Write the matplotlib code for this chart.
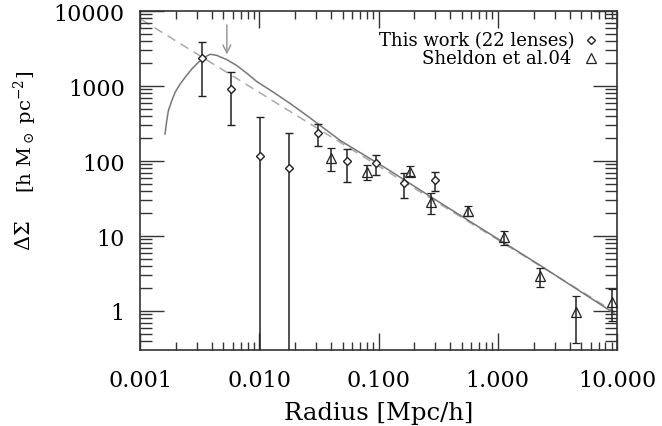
import numpy as np
import matplotlib
matplotlib.use("Agg")
import matplotlib.pyplot as plt

# this work (22 lenses)
r_tw = [0.00334, 0.00578, 0.0102, 0.0179, 0.0313, 0.0546, 0.0955, 0.165, 0.296]
ds_tw = [2340, 915, 116, 81, 234, 100, 93, 50.4, 56.4]
hi_tw = [3900, 1524, 382, 234, 311, 146, 121, 69, 72]
lo_tw = [735, 302, 0.01, 0.01, 157, 52.5, 65, 31.9, 39.4]

# Sheldon et al. 04
r_sh = [0.0403, 0.0803, 0.1845, 0.275, 0.562, 1.12, 2.27, 4.55, 9.08]
ds_sh = [108.6, 72, 72, 28.4, 21.7, 9.6, 2.96, 0.96, 1.31]
hi_sh = [147.5, 89, 85, 37, 25.4, 11.8, 3.74, 1.6, 1.97]
lo_sh = [73.6, 55.8, 62.5, 19.6, 18.7, 7.65, 2.11, 0.38, 0.74]

# model curves
r_model = [0.00162, 0.001676, 0.00173, 0.001847, 0.00197, 0.00217, 0.00239,
           0.00272, 0.00309, 0.00352, 0.0039, 0.00441, 0.00535, 0.0065,
           0.00788, 0.00957, 0.01318, 0.0180, 0.02518, 0.048, 0.1183,
           0.332, 2.30, 9.48]
ds_model = [229, 345, 469, 637, 824, 1064, 1306,
            1686, 2070, 2450, 2650, 2560, 2244, 1866,
            1476, 1141, 824, 590, 402, 186.6, 78.2,
            27.5, 4.0, 0.93]
r_sis = [0.00103, 9.48]
ds_sis = [7660, 0.98]

arrow_r = 0.00535
arrow_top, arrow_bot = 7070, 2414

plt.rcParams['font.family'] = ['DejaVu Serif']
plt.rcParams['mathtext.fontset'] = 'dejavuserif'

fig = plt.figure(figsize=(6.62, 4.27), dpi=100)
ax = fig.add_axes([140 / 662, 1 - 351 / 427, 477 / 662, 339 / 427])
ax.set_xscale('log')
ax.set_yscale('log')
ax.set_xlim(0.001, 10.0)
ax.set_ylim(10 ** (4 - 339 / 75), 10000)

dark = '#222222'
ax.plot(r_model, ds_model, color='#777777', lw=1.1, zorder=2)
ax.plot(r_sis, ds_sis, color='#aaaaaa', lw=1.1, dashes=(6, 4), zorder=1)

ax.errorbar(r_tw, ds_tw,
            yerr=[np.array(ds_tw) - np.array(lo_tw), np.array(hi_tw) - np.array(ds_tw)],
            fmt='D', ms=4.2, mfc='white', mec=dark, mew=1.0, ecolor=dark,
            elinewidth=1.1, capsize=3, capthick=1.1, zorder=3)
ax.errorbar(r_sh, ds_sh,
            yerr=[np.array(ds_sh) - np.array(lo_sh), np.array(hi_sh) - np.array(ds_sh)],
            fmt='^', ms=6.5, mfc='none', mec=dark, mew=0.9, ecolor=dark,
            elinewidth=1.1, capsize=3, capthick=1.1, zorder=3)

ax.annotate('', xy=(arrow_r, arrow_bot), xytext=(arrow_r, arrow_top),
            arrowprops=dict(arrowstyle='->', color='#999999', lw=1.1,
                            mutation_scale=14))

# legend
ax.text(0.91, 0.915, 'This work (22 lenses)', transform=ax.transAxes,
        ha='right', va='center', fontsize=13, color='black')
ax.plot([0.945], [0.915], 'D', ms=4.2, mfc='white', mec=dark, mew=1.0,
        transform=ax.transAxes)
ax.text(0.905, 0.862, 'Sheldon et al.04', transform=ax.transAxes,
        ha='right', va='center', fontsize=13, color='black')
ax.plot([0.945], [0.862], '^', ms=6.5, mfc='none', mec=dark, mew=0.9,
        transform=ax.transAxes)

ax.set_xticks([0.001, 0.01, 0.1, 1, 10])
ax.set_xticklabels(['0.001', '0.010', '0.100', '1.000', '10.000'])
ax.set_yticks([1, 10, 100, 1000, 10000])
ax.set_yticklabels(['1', '10', '100', '1000', '10000'])

ax.tick_params(which='both', direction='in', top=True, right=True,
               labelsize=16, color='#333333')
ax.tick_params(axis='x', which='major', length=12, width=1.0, pad=14)
ax.tick_params(axis='x', which='minor', length=6, width=1.0)
ax.tick_params(axis='y', which='major', length=17, width=1.0, pad=11)
ax.tick_params(axis='y', which='minor', length=8.5, width=1.0)
for s in ax.spines.values():
    s.set_linewidth(1.2)
    s.set_color('#333333')

ax.set_xlabel('Radius [Mpc/h]', fontsize=17.5)
ax.xaxis.label.set_va('center')
ax.xaxis.set_label_coords(0.5, (351 - 414) / 339)

fig.text(25 / 662, 1 - 236 / 427, r'$\Delta\Sigma$', rotation=90,
         ha='center', va='center', fontsize=15)
fig.text(25 / 662, 1 - 132 / 427, r'[h M$_\odot$ pc$^{-2}$]', rotation=90,
         ha='center', va='center', fontsize=14)

fig.savefig('out.png', dpi=100)
